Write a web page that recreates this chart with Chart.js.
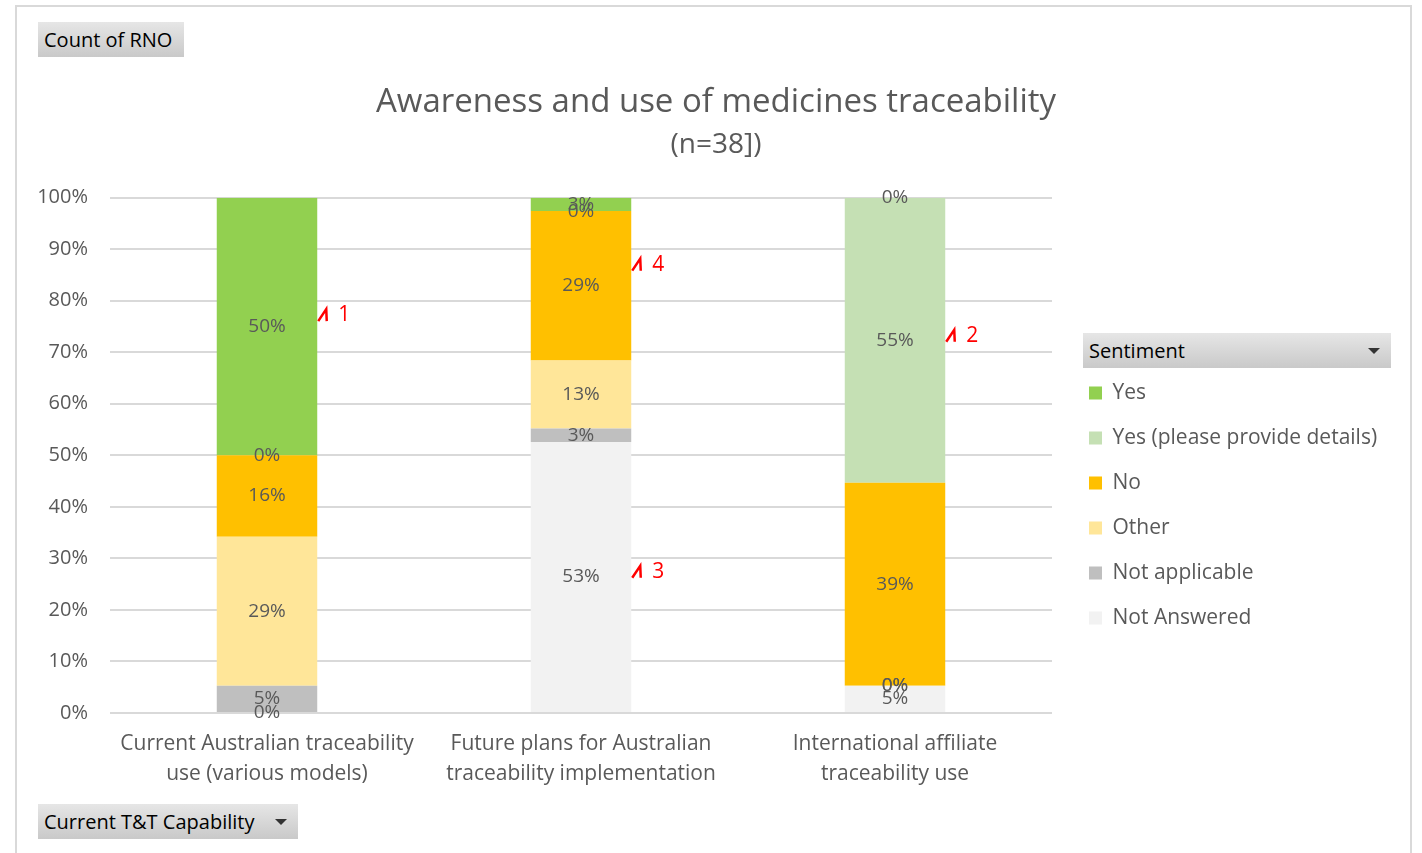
<!DOCTYPE html>
<html><head><meta charset="utf-8">
<script src="https://cdn.jsdelivr.net/npm/chart.js@4.4.1/dist/chart.umd.min.js"></script>
<style>
html,body{margin:0;padding:0;background:#fff;}
body{width:1422px;height:853px;position:relative;overflow:hidden;font-family:'Open Sans','Noto Sans',sans-serif;}
#frame{position:absolute;left:15px;top:5px;width:1397px;height:870px;border:2px solid #d9d9d9;box-sizing:border-box;}
#wrap{position:absolute;left:0;top:0;width:1422px;height:853px;}
.btn{position:absolute;height:35px;background:linear-gradient(#e6e6e6,#c9c9c9);color:#000;font-size:20px;line-height:35px;padding-left:6px;box-sizing:border-box;white-space:nowrap;z-index:2;}
.btn .tri{position:absolute;right:11px;top:15px;width:0;height:0;border-left:6px solid transparent;border-right:6px solid transparent;border-top:6px solid #333;}
</style></head>
<body>
<div id="frame"></div>
<div id="wrap"><canvas id="c"></canvas></div>
<div class="btn" style="left:38px;top:22px;width:146px;">Count of RNO</div>
<div class="btn" style="left:38px;top:804px;width:260px;">Current T&amp;T Capability<span class="tri"></span></div>
<div class="btn" style="left:1083px;top:333px;width:308px;">Sentiment<span class="tri"></span></div>
<script>
// ---- data (percent of respondents, n=38) ----
const categories = [
  ['Current Australian traceability', 'use (various models)'],
  ['Future plans for Australian', 'traceability implementation'],
  ['International affiliate', 'traceability use']
];
const seriesNames = ['Not Answered', 'Not applicable', 'Other', 'No', 'Yes (please provide details)', 'Yes'];
const notAnswered   = [0,    52.6, 5.3];
const notApplicable = [5.3,  2.6,  0];
const other         = [28.9, 13.2, 0];
const no            = [15.8, 29.0, 39.4];
const yesDetails    = [0,    0,    55.3];
const yes           = [50.0, 2.6,  0];
const yTicks = [0, 10, 20, 30, 40, 50, 60, 70, 80, 90, 100];
const noteLabels   = ['1', '4', '3', '2'];
const noteCategory = [0, 1, 1, 2];
const noteValue    = [77.2, 87.0, 27.4, 73.2];

const seriesValues = [notAnswered, notApplicable, other, no, yesDetails, yes];
const seriesColors = ['#F2F2F2', '#BFBFBF', '#FFE699', '#FFC000', '#C5E0B4', '#92D050'];
const FONT = "'Open Sans','Noto Sans',sans-serif";
const GREY = '#595959';

const datasets = seriesNames.map((n, i) => ({
  label: n,
  data: seriesValues[i],
  backgroundColor: seriesColors[i],
  borderWidth: 0,
  barPercentage: 0.32,
  categoryPercentage: 1
}));

const layoutPlugin = {
  id: 'legendLayout',
  beforeUpdate(chart) {
    const lg = chart.legend;
    if (lg && !lg._wrapped) {
      const orig = lg.fit.bind(lg);
      lg.fit = function () { orig(); this.width = 360; };
      lg._wrapped = true;
    }
  },
  afterLayout(chart) {
    const lg = chart.legend;
    if (lg) { lg.left += 13; lg.right += 13; }
  }
};

const labelPlugin = {
  id: 'segLabels',
  afterDatasetsDraw(chart) {
    const ctx = chart.ctx;
    ctx.save();
    ctx.font = '19px ' + FONT;
    ctx.fillStyle = GREY;
    ctx.textAlign = 'center';
    ctx.textBaseline = 'middle';
    chart.data.datasets.forEach((ds, i) => {
      const meta = chart.getDatasetMeta(i);
      meta.data.forEach((bar, j) => {
        const v = ds.data[j];
        ctx.fillText(Math.round(v) + '%', bar.x, (bar.y + bar.base) / 2);
      });
    });
    // red notes
    const ys = chart.scales.y;
    const meta0 = chart.getDatasetMeta(0);
    ctx.strokeStyle = '#FF0000';
    ctx.fillStyle = '#FF0000';
    ctx.lineWidth = 2.5;
    ctx.font = '21px ' + FONT;
    ctx.textAlign = 'left';
    noteLabels.forEach((t, k) => {
      const bar = meta0.data[noteCategory[k]];
      const right = bar.x + bar.width / 2;
      const y = ys.getPixelForValue(noteValue[k]);
      const x0 = right + 1;
      ctx.beginPath();
      ctx.moveTo(x0, y + 6);
      ctx.lineTo(x0 + 8, y - 6);
      ctx.lineTo(x0 + 8.5, y + 6);
      ctx.stroke();
      ctx.fillText(t, x0 + 20, y);
    });
    ctx.restore();
  }
};

new Chart(document.getElementById('c'), {
  type: 'bar',
  data: { labels: categories, datasets },
  plugins: [layoutPlugin, labelPlugin],
  options: {
    responsive: true,
    maintainAspectRatio: false,
    animation: false,
    layout: { padding: { left: 20, right: 10, top: 83, bottom: 48 } },
    plugins: {
      tooltip: { enabled: false },
      title: {
        display: true,
        text: 'Awareness and use of medicines traceability',
        color: GREY,
        font: { family: FONT, size: 33, weight: 'normal', lineHeight: 1.2 },
        padding: { top: 0, bottom: 5.5 }
      },
      subtitle: {
        display: true,
        text: '(n=38])',
        color: GREY,
        font: { family: FONT, size: 28, weight: 'normal', lineHeight: 1.2 },
        padding: { top: 0, bottom: 36 }
      },
      legend: {
        position: 'right',
        align: 'start',
        fullSize: false,
        reverse: true,
        title: { display: true, text: '', font: { family: FONT, size: 19, lineHeight: 1.2 }, padding: { top: 0, bottom: 138 } },
        labels: {
          boxWidth: 13,
          boxHeight: 13,
          padding: 24,
          color: GREY,
          font: { family: FONT, size: 21 }
        }
      }
    },
    scales: {
      x: {
        stacked: true,
        grid: { display: false, drawTicks: false },
        border: { display: false },
        ticks: { color: GREY, padding: 16, maxRotation: 0, autoSkip: false, font: { family: FONT, size: 21, lineHeight: 1.43 } }
      },
      y: {
        stacked: true,
        min: 0,
        max: 100,
        afterFit(scale) { scale.width = 90; },
        afterBuildTicks(scale) { scale.ticks = yTicks.map(v => ({ value: v })); },
        grid: { color: '#d9d9d9', lineWidth: 2, drawTicks: false },
        border: { display: false },
        ticks: { color: GREY, padding: 22, font: { family: FONT, size: 20 }, callback: v => v + '%' }
      }
    }
  }
});
</script>
</body></html>
